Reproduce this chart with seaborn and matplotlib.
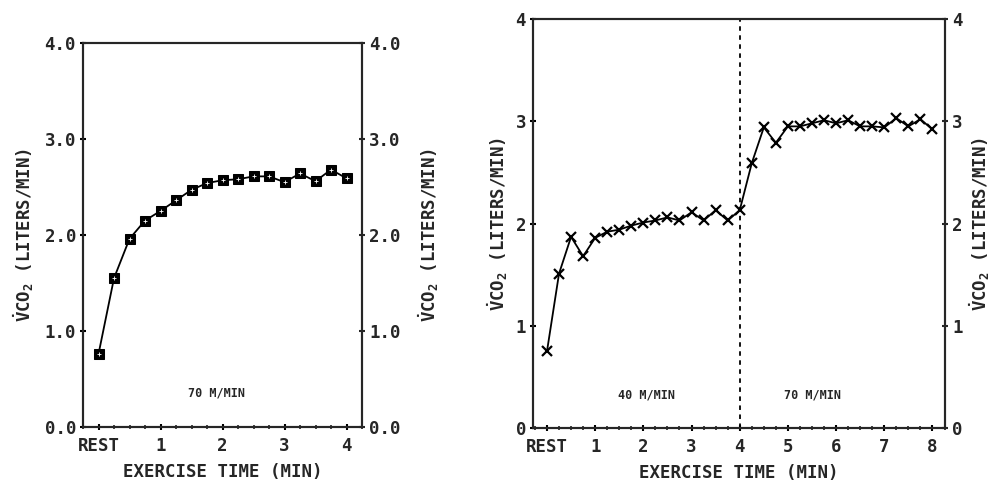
"""VCO2 durante ejercicio: 70 m/min (izq) y 40 -> 70 m/min (der)."""

import numpy as np
import pandas as pd

import matplotlib
matplotlib.use("Agg")
import matplotlib.pyplot as plt
from matplotlib.ticker import MultipleLocator
import seaborn as sns

# datos
tiempo_izq = [0, 0.25, 0.5, 0.75, 1.0, 1.25, 1.5, 1.75, 2.0, 2.25, 2.5, 2.75, 3.0,
              3.25, 3.5, 3.75, 4.0]
vco2_izq = [0.76, 1.55, 1.96, 2.15, 2.25, 2.36, 2.47, 2.54, 2.57, 2.58, 2.61, 2.61,
            2.55, 2.64, 2.56, 2.68, 2.59]

tiempo_der = [0, 0.25, 0.5, 0.75, 1.0, 1.25, 1.5, 1.75, 2.0, 2.25, 2.5, 2.75, 3.0,
              3.25, 3.5, 3.75, 4.0, 4.25, 4.5, 4.75, 5.0, 5.25, 5.5, 5.75, 6.0,
              6.25, 6.5, 6.75, 7.0, 7.25, 7.5, 7.75, 8.0]
vco2_der = [0.75, 1.51, 1.87, 1.68, 1.86, 1.92, 1.94, 1.98, 2.01, 2.03, 2.06, 2.03,
            2.11, 2.03, 2.13, 2.03, 2.13, 2.59, 2.94, 2.79, 2.95, 2.95, 2.98, 3.01,
            2.98, 3.01, 2.95, 2.95, 2.94, 3.03, 2.95, 3.02, 2.92]

ticks_izq = [0, 1, 2, 3, 4]
etiquetas_izq = ["REST", "1", "2", "3", "4"]
ticks_der = [0, 1, 2, 3, 4, 5, 6, 7, 8]
etiquetas_der = ["REST", "1", "2", "3", "4", "5", "6", "7", "8"]

yticks_izq = [0, 1, 2, 3, 4]
yetiq_izq = ["0.0", "1.0", "2.0", "3.0", "4.0"]
yticks_der = [0, 1, 2, 3, 4]
yetiq_der = ["0", "1", "2", "3", "4"]

cambio_carga = 4.0

sns.set_style("ticks")
plt.rcParams["font.family"] = ["DejaVu Sans Mono"]
plt.rcParams["font.weight"] = "bold"
plt.rcParams["mathtext.fontset"] = "custom"
plt.rcParams["mathtext.rm"] = "DejaVu Sans Mono:bold"
plt.rcParams["mathtext.it"] = "DejaVu Sans Mono:bold"
plt.rcParams["mathtext.bf"] = "DejaVu Sans Mono:bold"

ETIQUETA_Y = r"$\dot{\mathrm{V}}$CO$_2$ (LITERS/MIN)"
FS = 12.5


def formatear_eje(ax, xlim, xticks, xlabels, yticks, ylabels, pad_izq, pad_der):
    ax.set_xlim(*xlim)
    ax.set_ylim(0, 4)
    ax.set_xticks(xticks)
    ax.set_xticklabels(xlabels, fontsize=FS, fontweight="bold")
    ax.set_yticks(yticks)
    ax.set_yticklabels(ylabels, fontsize=FS, fontweight="bold")
    ax.xaxis.set_minor_locator(MultipleLocator(0.25))
    ax.tick_params(axis="both", which="major", direction="inout", length=4, width=1.5,
                   color="black", pad=3)
    ax.tick_params(axis="x", which="major", pad=5)
    ax.tick_params(axis="x", which="minor", direction="inout", length=3, width=1.2)
    for lado in ax.spines.values():
        lado.set_linewidth(1.5)
        lado.set_color("black")
    ax.set_xlabel("EXERCISE TIME (MIN)", fontsize=FS, fontweight="bold", labelpad=6)
    ax.set_ylabel(ETIQUETA_Y, fontsize=FS, fontweight="bold", labelpad=pad_izq)

    ax2 = ax.twinx()
    ax2.set_ylim(0, 4)
    ax2.set_yticks(yticks)
    ax2.set_yticklabels(ylabels, fontsize=FS, fontweight="bold")
    ax2.tick_params(axis="y", direction="inout", length=4, width=1.5, pad=3)
    ax2.set_ylabel(ETIQUETA_Y, fontsize=FS, fontweight="bold", labelpad=pad_der)
    for lado in ax2.spines.values():
        lado.set_linewidth(1.5)
    return ax2


fig = plt.figure(figsize=(10, 4.87), dpi=100)
ax_izq = fig.add_axes([0.083, 0.123, 0.279, 0.789])
ax_der = fig.add_axes([0.533, 0.121, 0.412, 0.84])

# panel izquierdo
df_izq = pd.DataFrame({"tiempo": tiempo_izq, "vco2": vco2_izq})
sns.lineplot(data=df_izq, x="tiempo", y="vco2", ax=ax_izq, color="black", linewidth=1.3,
             marker="s", markersize=7, markerfacecolor="black", markeredgecolor="black")
ax_izq.plot(tiempo_izq, vco2_izq, linestyle="none", marker="+", markersize=3,
            color="white", markeredgewidth=0.6, zorder=5)
formatear_eje(ax_izq, (-0.25, 4.25), ticks_izq, etiquetas_izq, yticks_izq, yetiq_izq,
              6, 12)
ax_izq.text(1.9, 0.35, "70 M/MIN", fontsize=8.5, fontweight="bold", ha="center",
            va="center")

# panel derecho
df_der = pd.DataFrame({"tiempo": tiempo_der, "vco2": vco2_der})
sns.lineplot(data=df_der, x="tiempo", y="vco2", ax=ax_der, color="black", linewidth=1.3,
             marker="x", markersize=6.5, markeredgewidth=1.6, markeredgecolor="black")
ax_der.axvline(cambio_carga, color="black", linestyle=(0, (2.5, 2.5)), linewidth=1.3)
formatear_eje(ax_der, (-0.29, 8.26), ticks_der, etiquetas_der, yticks_der, yetiq_der,
              4, 4)
ax_der.text(2.07, 0.32, "40 M/MIN", fontsize=8.5, fontweight="bold", ha="center",
            va="center")
ax_der.text(5.5, 0.32, "70 M/MIN", fontsize=8.5, fontweight="bold", ha="center",
            va="center")

fig.savefig("out.png", dpi=100, facecolor="white")
